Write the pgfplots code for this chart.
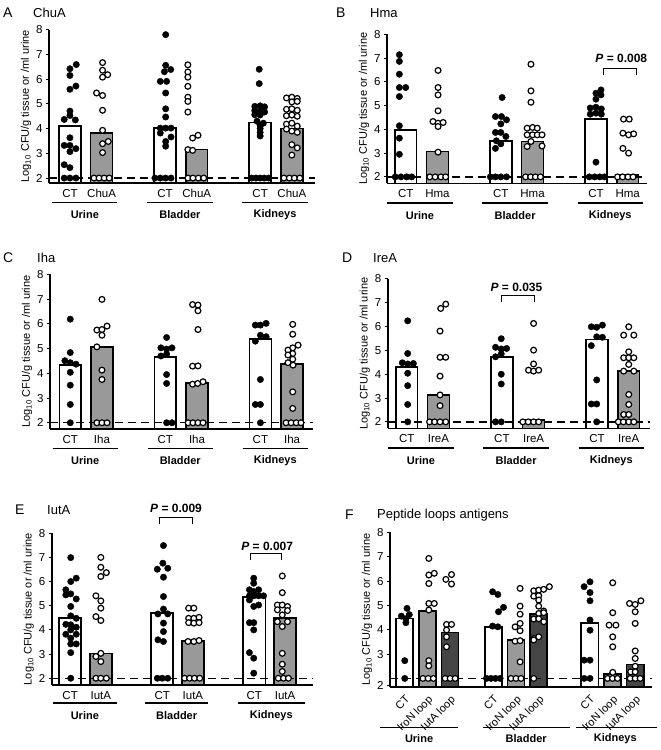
\documentclass[border=0pt]{standalone}
\usepackage{pgfplots}
\pgfplotsset{compat=1.18}
\usepackage{fontspec}
\setmainfont{Liberation Sans}
\definecolor{midgray}{gray}{0.6}
\definecolor{loopgray}{gray}{0.27}

\pgfplotsset{
  panel/.style={
    scale only axis, anchor=south west,
    axis x line*=bottom, axis y line*=left,
    axis line style={-, line width=1.6pt},
    axis on top,
    clip mode=individual,
    ymax=8, ytick={2,...,8},
    tick align=outside, major tick length=3pt,
    ytick style={line width=1pt, black},
    xtick style={draw=none},
    /pgf/number format/assume math mode=true,
    tick label style={font=\fontsize{11.5}{12}\selectfont},
    ylabel={Log\textsubscript{10} CFU/g tissue or /ml urine},
    ylabel style={font=\fontsize{11}{12}\selectfont},
    ylabel shift=-2pt,
  },
  ctbar/.style={ybar, bar shift=0pt, fill=white, draw=black, line width=1.6pt},
  varbar/.style={ybar, bar shift=0pt, fill=midgray, draw=black, line width=1.6pt},
  cutoff/.style={line width=1.3pt, dash pattern=on 8pt off 5pt},
  cdot/.style={only marks, mark=*, mark size=3.2pt, mark options={draw=black, fill=black}},
  vdot/.style={only marks, mark=*, mark size=2.9pt, mark options={draw=black, fill=white, line width=1.2pt}},
}

% organ underline + name: from, to, centre, ymin, name, line drop, label drop
\newcommand{\organ}[7]{%
  \draw[line width=1.4pt] ([yshift=-#6pt]axis cs:#1,#4) -- ([yshift=-#6pt]axis cs:#2,#4);
  \node[font=\bfseries\fontsize{11}{12}\selectfont] at ([yshift=-#7pt]axis cs:#3,#4) {#5};}
% significance bracket: x1, x2, y, tip, x text, y text, value
\newcommand{\pval}[7]{%
  \draw[line width=1pt] (axis cs:#1,#4) -- (axis cs:#1,#3) -- (axis cs:#2,#3) -- (axis cs:#2,#4);
  \node[font=\bfseries\fontsize{12}{13}\selectfont] at (axis cs:#5,#6) {\textit{P} = #7};}

\begin{document}
\begin{tikzpicture}
\useasboundingbox (0,0) rectangle (661pt,-750pt);

% panel titles
\begin{scope}[every node/.style={anchor=west, inner sep=0pt}]
\node[font=\fontsize{14}{16}\selectfont] at (3pt,-13pt) {A};
\node[font=\fontsize{13}{15}\selectfont] at (33pt,-13pt) {ChuA};
\node[font=\fontsize{14}{16}\selectfont] at (336pt,-13pt) {B};
\node[font=\fontsize{13}{15}\selectfont] at (370pt,-13pt) {Hma};
\node[font=\fontsize{14}{16}\selectfont] at (3pt,-258pt) {C};
\node[font=\fontsize{13}{15}\selectfont] at (37pt,-258pt) {Iha};
\node[font=\fontsize{14}{16}\selectfont] at (342pt,-258pt) {D};
\node[font=\fontsize{13}{15}\selectfont] at (373pt,-258pt) {IreA};
\node[font=\fontsize{14}{16}\selectfont] at (15pt,-510pt) {E};
\node[font=\fontsize{13}{15}\selectfont] at (47pt,-510pt) {IutA};
\node[font=\fontsize{14}{16}\selectfont] at (345pt,-515pt) {F};
\node[font=\fontsize{13}{15}\selectfont] at (377pt,-515pt) {Peptide loops antigens};
\end{scope}

% ---------------- A: ChuA
\begin{axis}[panel, at={(49pt,-183pt)}, width=266pt, height=153.3pt,
  xmin=0.34, xmax=8.73, ymin=1.8,
  xtick={1,2,4,5,7,8}, xticklabels={CT,ChuA,CT,ChuA,CT,ChuA}]
\addplot[ctbar, bar width=0.69] coordinates {(1,4.1) (4,4.02) (7,4.24)};
\addplot[varbar, bar width=0.69] coordinates {(2,3.82) (5,3.16) (8,4.0)};
\addplot[cutoff] coordinates {(0.34,2) (8.73,2)};
\addplot[cdot] coordinates {
 (1.2,6.59)(1,6.42)(1,6.15)(1.19,5.72)(1,5.59)(1,4.71)(1,4.53)(0.82,4.37)(1.17,4.35)(1,3.63)
 (0.82,3.32)(1,3.32)(1.19,3.19)(1,3.07)(0.82,2.54)(1,2.42)(0.82,2)(1,2)(1.19,2)
 (4.02,7.8)(4.02,6.56)(4.18,6.39)(3.98,6.3)(3.85,5.91)(4.05,5.91)(4.02,5.44)(4.02,4.8)(4.02,4.47)
 (3.85,4.02)(4.02,4.02)(4.19,4.02)(3.85,3.82)(4.19,3.66)(4.02,3.48)(4.02,3.29)(3.68,2)(3.85,2)(4.02,2)(4.19,2)
 (6.97,6.4)(6.97,5.82)(6.83,4.9)(7.0,4.92)(7.14,4.88)(6.83,4.73)(7.0,4.7)(7.14,4.67)(6.83,4.56)(7.0,4.55)
 (6.9,4.3)(7.1,4.22)(7.0,4.13)(7.0,4.0)(7.0,3.85)(7.0,3.7)(6.73,2)(6.87,2)(7,2)(7.13,2)(7.27,2)};
\addplot[vdot] coordinates {
 (2.03,6.67)(2.03,6.36)(2.19,6.18)(2.03,6.08)(1.84,5.44)(2.03,5.34)(2.03,4.74)(2.03,3.93)(2.21,3.48)
 (2.03,3.39)(2.03,3.03)(1.76,2)(1.92,2)(2.08,2)(2.24,2)
 (4.72,6.58)(4.72,6.29)(4.72,6.08)(4.72,5.71)(4.72,5.27)(4.72,5.1)(4.72,4.67)(4.87,3.62)(5.04,3.73)
 (4.72,3.15)(4.87,3.12)(4.72,2)(4.88,2)(5.05,2)(5.22,2)
 (7.83,5.24)(8.0,5.27)(8.17,5.22)(8.0,5.08)(8.17,5.1)(7.83,4.78)(8.0,4.8)(8.17,4.74)(7.83,4.52)(8.0,4.55)
 (8.17,4.5)(7.83,4.18)(8.0,4.22)(8.17,4.1)(7.83,3.98)(8.0,3.9)(8.17,3.85)(8.0,3.35)(8.17,3.22)(8.0,2.93)
 (7.75,2)(7.92,2)(8.08,2)(8.25,2)};
\organ{0.44}{2.5}{1.47}{1.8}{Urine}{19.5}{32}
\organ{3.44}{5.5}{4.47}{1.8}{Bladder}{19.5}{32}
\organ{6.44}{8.5}{7.47}{1.8}{Kidneys}{19.5}{32}
\end{axis}

% ---------------- B: Hma
\begin{axis}[panel, at={(387pt,-183.3pt)}, width=260pt, height=149pt,
  xmin=0.41, xmax=8.61, ymin=1.73,
  xtick={1,2,4,5,7,8}, xticklabels={CT,Hma,CT,Hma,CT,Hma}]
\addplot[ctbar, bar width=0.69] coordinates {(1,3.98) (4,3.52) (7,4.43)};
\addplot[varbar, bar width=0.69] coordinates {(2,3.07) (5,3.49) (8,2.08)};
\addplot[cutoff] coordinates {(0.41,2) (8.61,2)};
\addplot[cdot] coordinates {
 (0.8,7.14)(0.8,6.86)(0.8,6.32)(0.8,5.76)(1.0,5.76)(0.8,5.38)(0.8,4.15)(0.8,3.63)(0.8,2.95)
 (0.67,2)(0.85,2)(1.03,2)(1.19,2)
 (4.04,5.34)(3.83,4.54)(4.02,4.54)(4.18,4.4)(4,4.23)(3.83,3.87)(4,3.87)(4.16,3.7)(3.86,3.52)(4,3.39)
 (3.83,3.2)(3.67,2)(3.83,2)(4,2)(4.18,2)
 (7.16,5.66)(7,5.52)(7.16,5.45)(7,5.27)(6.82,4.9)(7,4.93)(7.17,4.86)(7,4.68)(6.82,4.64)(7.17,4.64)
 (7,2.62)(6.79,2)(6.96,2)(7.12,2)(7.27,2)};
\addplot[vdot] coordinates {
 (2.02,6.48)(2.02,5.76)(2.02,5.45)(2.02,4.78)(1.86,4.33)(2.02,4.26)(2.18,4.29)(2.02,4.12)(2.02,3.04)
 (1.76,2)(1.93,2)(2.11,2)(2.26,2)
 (4.95,6.74)(4.95,5.62)(4.95,5.14)(4.83,4.05)(5,4.08)(5.15,4.05)(4.83,3.77)(5,3.77)(5.15,3.77)(5.3,3.77)
 (4.95,3.49)(4.83,3.28)(5.3,3.3)(4.78,2)(4.94,2)(5.09,2)(5.25,2)
 (7.87,4.43)(8.05,4.43)(7.85,3.84)(8.03,3.77)(8.19,3.81)(7.85,3.2)(8.03,3.0)(7.68,2)(7.84,2)(8.01,2)(8.17,2)};
\pval{7.24}{8.27}{6.58}{6.3}{7.8}{7.0}{0.008}
\organ{0.42}{2.48}{1.45}{1.73}{Urine}{19.5}{32}
\organ{3.42}{5.48}{4.45}{1.73}{Bladder}{19.5}{32}
\organ{6.42}{8.48}{7.45}{1.73}{Kidneys}{19.5}{32}
\end{axis}

% ---------------- C: Iha
\begin{axis}[panel, at={(50pt,-428.7pt)}, width=263pt, height=154.3pt,
  xmin=0.36, xmax=8.66, ymin=1.76,
  xtick={1,2,4,5,7,8}, xticklabels={CT,Iha,CT,Iha,CT,Iha}]
\addplot[ctbar, bar width=0.69] coordinates {(1,4.33) (4,4.67) (7,5.38)};
\addplot[varbar, bar width=0.69] coordinates {(2,5.07) (5,3.62) (8,4.37)};
\addplot[cutoff] coordinates {(0.36,2) (8.66,2)};
\addplot[cdot] coordinates {
 (1,6.19)(1,4.84)(0.83,4.51)(1,4.43)(1.18,4.37)(1,4.04)(1,3.52)(1,2.74)(1,2)
 (4.04,5.45)(3.86,5.03)(4.04,4.98)(4.21,5.03)(4.04,4.78)(3.86,4.7)(4.04,3.95)(4.04,3.59)(4.04,2)(4.21,2)
 (6.84,5.95)(7,5.95)(7.18,6.02)(7,5.54)(7.18,5.48)(6.84,5.3)(7,3.75)(6.84,2.74)(7,2.74)(7,2)};
\addplot[vdot] coordinates {
 (2,6.99)(1.84,5.75)(2,5.77)(2.16,5.91)(2,5.54)(1.84,5.07)(2,4.13)(2,3.75)(1.84,2)(2,2)(2.16,2)
 (4.86,6.78)(5.03,6.76)(5.03,6.53)(5.03,5.77)(4.86,4.29)(5.03,4.3)(4.86,3.56)(5.02,3.59)(5.19,3.66)
 (4.72,2)(4.87,2)(5.03,2)(5.19,2)
 (8.02,5.98)(8.02,5.58)(7.87,4.94)(8.02,5.03)(8.19,5.14)(8.02,4.8)(7.87,4.74)(8.02,4.57)(7.87,4.43)
 (8.03,4.33)(8.02,3.25)(8.02,2.58)(7.81,2)(7.97,2)(8.13,2)(8.28,2)};
\organ{0.44}{2.5}{1.47}{1.76}{Urine}{19.5}{32}
\organ{3.44}{5.5}{4.47}{1.76}{Bladder}{19.5}{32}
\organ{6.44}{8.5}{7.47}{1.76}{Kidneys}{19.5}{32}
\end{axis}

% ---------------- D: IreA
\begin{axis}[panel, at={(387.7pt,-428.3pt)}, width=262.3pt, height=149.4pt,
  xmin=0.40, xmax=8.67, ymin=1.73,
  xtick={1,2,4,5,7,8}, xticklabels={CT,IreA,CT,IreA,CT,IreA}]
\addplot[ctbar, bar width=0.69] coordinates {(1,4.31) (4,4.71) (7,5.46)};
\addplot[varbar, bar width=0.69] coordinates {(2,3.13) (5,2.08) (8,4.13)};
\addplot[cutoff] coordinates {(0.40,2) (8.67,2)};
\addplot[cdot] coordinates {
 (1.03,6.24)(1.03,4.87)(0.86,4.48)(1.03,4.43)(1.21,4.45)(1.03,4.04)(1.03,3.52)(1.03,2.73)(1.03,2)
 (3.98,5.49)(3.8,5.13)(3.98,5.06)(4.15,5.08)(3.98,4.85)(3.8,4.73)(3.98,4.0)(3.98,3.59)(3.8,2)(3.98,2)
 (6.82,5.99)(6.99,5.97)(7.17,6.06)(6.99,5.57)(7.17,5.55)(6.82,5.2)(6.99,3.76)(6.82,2.75)(6.99,2.75)(6.99,2)};
\addplot[vdot] coordinates {
 (2.23,6.94)(2.07,6.76)(2.05,5.81)(2.05,4.71)(2.23,4.71)(2.05,3.92)(2.05,3.13)(2.05,2.68)
 (1.72,2)(1.88,2)(2.05,2)(2.23,2)
 (5,6.13)(5,5.01)(5,4.43)(4.84,4.17)(5,4.13)(5.16,4.17)(4.66,2)(4.83,2)(5,2)(5.16,2)
 (8,5.99)(7.84,5.64)(8.16,5.64)(8,4.94)(7.84,4.69)(8,4.69)(8.16,4.69)(8,4.41)(7.84,4.13)(8.16,4.13)
 (8,3.15)(8,2.73)(7.84,2.31)(8,2.31)(7.67,2)(7.83,2)(8,2)(8.16,2)};
\pval{4.0}{5.02}{7.32}{7.04}{4.46}{7.64}{0.035}
\organ{0.42}{2.48}{1.45}{1.73}{Urine}{19.5}{32}
\organ{3.42}{5.48}{4.45}{1.73}{Bladder}{19.5}{32}
\organ{6.42}{8.48}{7.45}{1.73}{Kidneys}{19.5}{32}
\end{axis}

% ---------------- E: IutA
\begin{axis}[panel, at={(51.7pt,-685pt)}, width=261.6pt, height=151.8pt,
  xmin=0.40, xmax=8.92, ymin=1.72,
  xtick={1,2,4,5,7,8}, xticklabels={CT,IutA,CT,IutA,CT,IutA}]
\addplot[ctbar, bar width=0.72] coordinates {(1,4.48) (4,4.69) (7,5.35)};
\addplot[varbar, bar width=0.72] coordinates {(2,3.03) (5,3.54) (8,4.48)};
\addplot[cutoff] coordinates {(0.40,2) (8.92,2)};
\addplot[cdot] coordinates {
 (1.02,6.99)(1.02,6.0)(1.2,6.14)(0.86,5.66)(1.02,5.49)(0.86,5.45)(1.2,5.28)(1.02,4.97)(1.02,4.58)(1.2,4.48)
 (0.86,4.23)(1.02,4.21)(1.2,4.11)(1.02,4.0)(0.86,3.82)(1.2,3.82)(1.02,3.66)(1.02,3.42)(1.2,3.42)(1.02,3.06)(1.02,2)
 (4.04,8.03)(4.04,7.49)(4.02,6.76)(3.84,6.51)(4.18,6.55)(4.04,6.18)(4.04,5.38)(4.04,4.86)(3.86,4.66)(4.18,4.66)
 (4.04,4.28)(4.04,3.93)(3.86,3.59)(4.04,3.52)(3.84,2)(4,2)(4.18,2)
 (6.98,6.14)(6.98,5.93)(6.84,5.66)(6.98,5.59)(7.14,5.66)(6.84,5.41)(6.98,5.41)(7.14,5.41)(7.3,5.41)(6.84,5.24)
 (7.14,5.03)(6.98,4.97)(6.84,4.3)(6.98,4.3)(6.98,4.0)(6.84,3.06)(6.98,2.83)(6.98,2.21)};
\addplot[vdot] coordinates {
 (2,7.0)(2,6.59)(2.18,6.37)(2,6.21)(1.84,5.41)(2,5.2)(2,4.9)(1.84,4.55)(2,4.39)(2,3.03)(1.84,2.9)(2,2.69)
 (1.84,2)(2,2)(2.18,2)
 (4.86,4.9)(5.03,4.9)(4.86,4.48)(5.03,4.48)(5.2,4.52)(4.86,4.3)(5.03,4.28)(5.2,4.3)(4.84,3.52)(5.03,3.52)(5.2,3.56)
 (4.73,2)(4.89,2)(5.05,2)(5.22,2)
 (7.91,6.23)(7.91,5.54)(7.75,5.03)(7.91,5.03)(8.08,4.97)(7.75,4.83)(8.08,4.8)(7.91,4.62)(7.75,4.34)(8.08,4.34)
 (7.91,4.14)(7.91,3.03)(7.91,2.58)(7.91,2.28)(7.78,2)(7.95,2)(8.11,2)};
\pval{3.91}{4.97}{8.66}{8.39}{4.45}{9.03}{0.009}
\pval{6.89}{7.9}{7.17}{6.9}{7.42}{7.45}{0.007}
\organ{0.43}{2.53}{1.48}{1.72}{Urine}{18}{31}
\organ{3.43}{5.5}{4.47}{1.72}{Bladder}{18}{31}
\organ{6.46}{8.64}{7.55}{1.72}{Kidneys}{18}{31}
\end{axis}

% ---------------- F: peptide loops
\begin{axis}[panel, at={(390pt,-686.7pt)}, width=262pt, height=154.3pt,
  xmin=0.35, xmax=11.89, ymin=1.66,
  ytick={1.72,3,4,5,6,7,8}, yticklabels={2,3,4,5,6,7,8},
  xtick={1,2,3,4.9,5.9,6.9,9.15,10.15,11.15},
  xticklabels={CT,IroN loop,IutA loop,CT,IroN loop,IutA loop,CT,IroN loop,IutA loop},
  x tick label style={rotate=45, anchor=north east, font=\fontsize{11}{12}\selectfont}]
\addplot[ctbar, bar width=0.75] coordinates {(1,4.47) (4.9,4.12) (9.15,4.29)};
\addplot[varbar, bar width=0.75] coordinates {(2,4.78) (5.9,3.58) (10.15,2.18)};
\addplot[varbar, fill=loopgray, bar width=0.75] coordinates {(3,3.88) (6.9,4.64) (11.15,2.58)};
\addplot[cutoff] coordinates {(0.35,2) (11.89,2)};
\addplot[cdot] coordinates {
 (1.1,4.88)(0.85,4.56)(1.2,4.62)(1.05,4.45)(1.05,4.29)(1,2.73)(1,2)
 (4.87,5.56)(5.1,5.45)(5.35,4.92)(5.13,4.74)(4.87,4.15)(5.1,4.12)(4.6,2)(4.8,2)(5.0,2)(5.2,2)
 (9.16,5.97)(8.9,5.77)(9.16,5.53)(9.16,5.19)(9.16,4.4)(9.16,3.98)(8.9,2.75)(9.16,2.75)(8.9,2)(9.16,2)};
\addplot[vdot] coordinates {
 (2.06,6.93)(2.06,6.25)(2.3,6.32)(2.06,5.9)(2.06,5.08)(2.3,5.08)(2.06,4.81)(2.06,2.73)(2.06,2.52)
 (1.8,2)(2.03,2)(2.26,2)
 (6.08,5.7)(6.08,4.97)(6.08,4.64)(6.08,4.26)(5.86,4.12)(6.08,3.96)(5.86,3.53)(6.08,3.55)(6.08,2.68)
 (5.68,2)(5.9,2)(6.12,2)
 (10.16,5.93)(10.16,4.7)(10.0,4.19)(10.3,4.19)(10.16,3.71)(10.16,3.3)(10.16,2.25)(9.93,2)(10.15,2)(10.37,2)
 (2.81,6.07)(3.06,6.27)(3.06,5.88)(2.84,4.22)(3.06,4.22)(2.84,3.99)(2.84,3.71)(2.84,3.3)(2.78,2)(3.0,2)(3.22,2)
 (7.37,5.77)(6.68,5.6)(6.9,5.63)(7.12,5.66)(6.68,5.38)(6.9,5.4)(6.9,5.22)(6.9,4.97)(7.12,4.77)(6.9,4.67)
 (7.12,4.7)(6.68,4.44)(6.9,4.45)(7.12,4.33)(6.68,3.64)(6.9,3.71)(6.68,3.58)(6.68,2)
 (10.9,5.08)(11.15,5.04)(11.4,5.19)(11.15,4.74)(11.15,4.26)(11.15,3.13)(11.15,2.82)(11.15,2.5)(10.95,2.27)
 (11.15,2.27)(10.93,2)(11.15,2)(11.37,2)};
\organ{-0.09}{3.35}{1.63}{1.66}{Urine}{41}{51.5}
\organ{4.45}{8.28}{6.35}{1.66}{Bladder}{41}{51.5}
\organ{8.55}{12.1}{10.27}{1.66}{Kidneys}{41}{51.5}
\end{axis}
\end{tikzpicture}
\end{document}
